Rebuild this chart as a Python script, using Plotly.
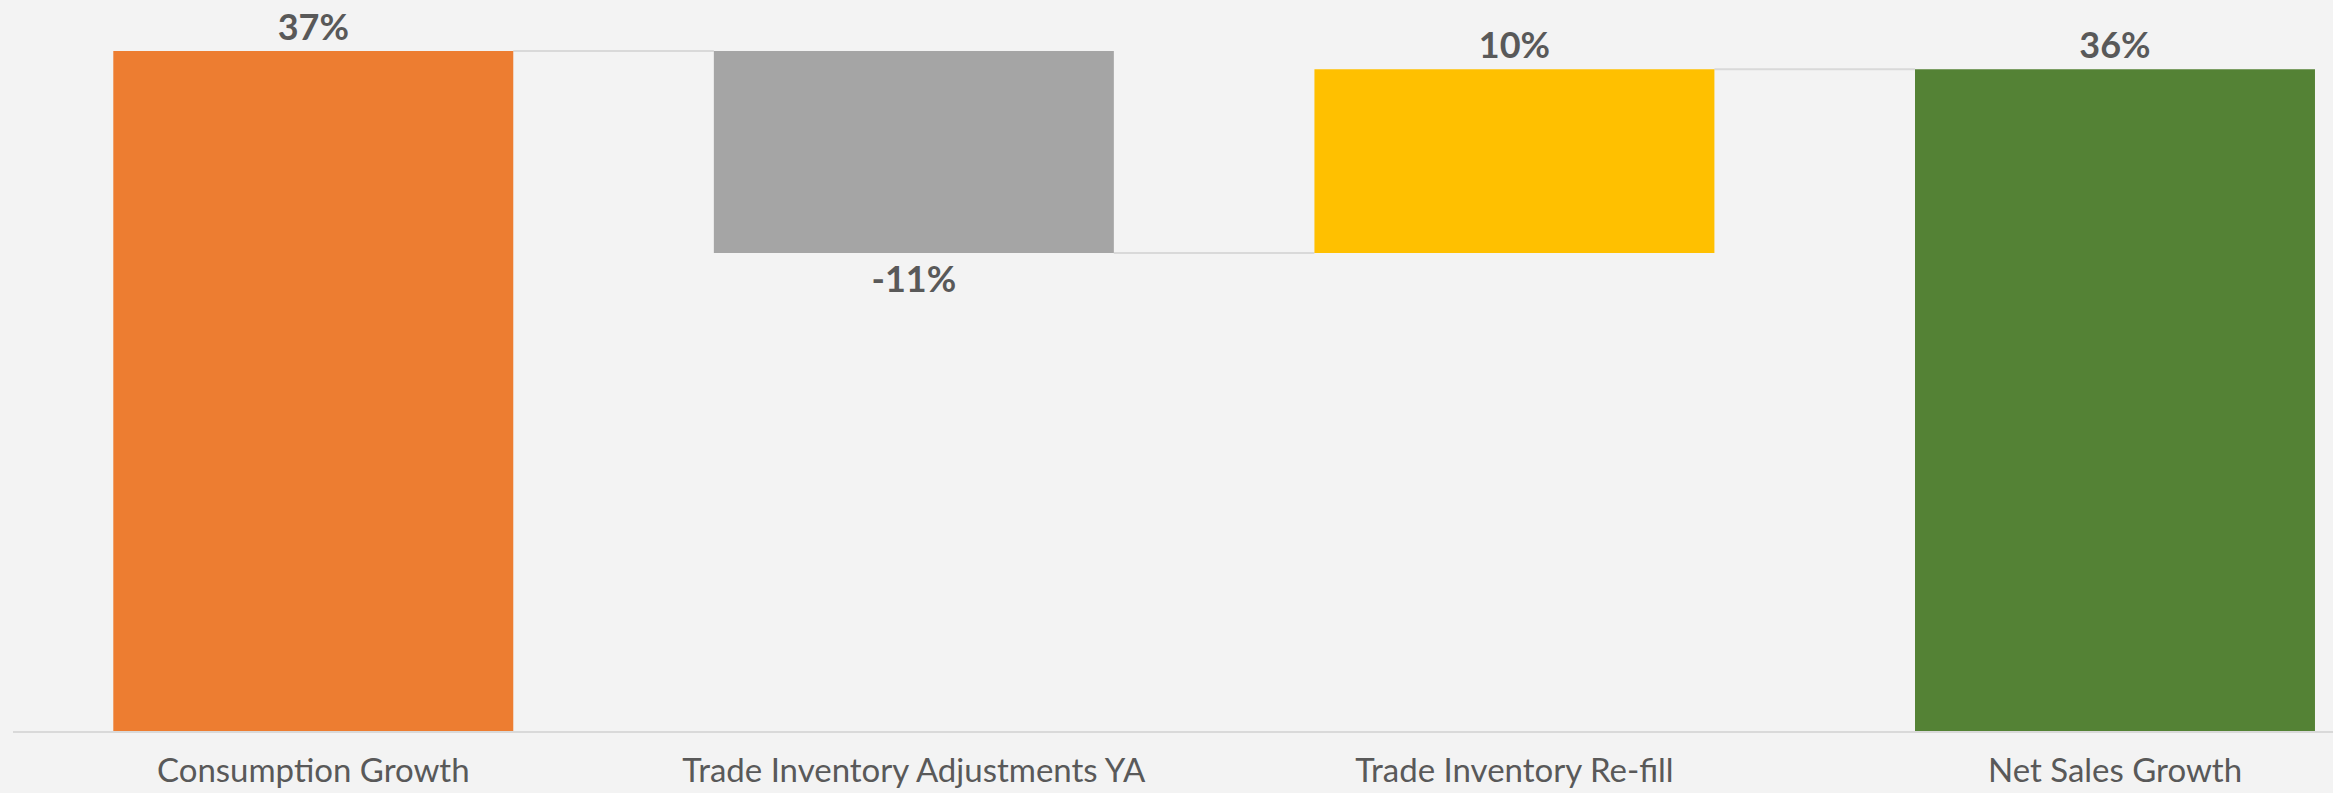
import plotly.graph_objects as go

categories = ["Consumption Growth", "Trade Inventory Adjustments YA", "Trade Inventory Re-fill", "Net Sales Growth"]
changes = [37, -11, 10]          # relative steps (%)
total_value = 36                 # final total (%)
bar_colors = ["#ED7D31", "#A5A5A5", "#FFC000", "#548235"]

# build bases / heights of the floating bars from the data
bases, heights = [], []
running = 0
for c in changes:
    bases.append(running)
    heights.append(c)
    running += c
bases.append(0)
heights.append(total_value)
labels = [f"{v}%" for v in heights]
tops = [b + h for b, h in zip(bases, heights)]

BAR_W = 0.666
text_color = "#595959"

fig = go.Figure()
fig.add_trace(go.Bar(
    x=list(range(len(categories))),
    y=heights,
    base=bases,
    width=BAR_W,
    marker=dict(color=bar_colors, line=dict(width=0)),
    text=labels,
    textposition="outside",
    textfont=dict(family="Lato", size=36, color=text_color, weight="bold"),
    cliponaxis=False,
    hoverinfo="skip",
))

# connector lines between consecutive bars (level after each step)
for i in range(len(categories) - 1):
    level = tops[i]
    fig.add_shape(type="line", xref="x", yref="y",
                  x0=i + BAR_W / 2, x1=i + 1 - BAR_W / 2, y0=level, y1=level,
                  line=dict(color="#d9d9d9", width=2), layer="below")

bg = "#f3f3f3"
fig.update_layout(
    width=2333, height=793,
    margin=dict(l=13, r=0, t=0, b=62, autoexpand=False),
    paper_bgcolor=bg, plot_bgcolor=bg,
    showlegend=False,
    xaxis=dict(
        range=[-0.5, 3.363],
        tickmode="array",
        tickvals=list(range(len(categories))),
        ticktext=categories,
        tickfont=dict(family="Lato", size=33, color=text_color),
        showgrid=False, zeroline=False, automargin=False,
        showline=True, linecolor="#d9d9d9", linewidth=2,
        ticks="", ticklabelstandoff=9,
    ),
    yaxis=dict(
        range=[0, 39.77],
        visible=False, showgrid=False, zeroline=False, automargin=False,
    ),
)

fig.write_html(
    "out.html",
    config={"displayModeBar": False},
    post_script="document.body.style.margin='0px';document.body.style.overflow='hidden';document.body.style.background='" + bg + "';",
)
